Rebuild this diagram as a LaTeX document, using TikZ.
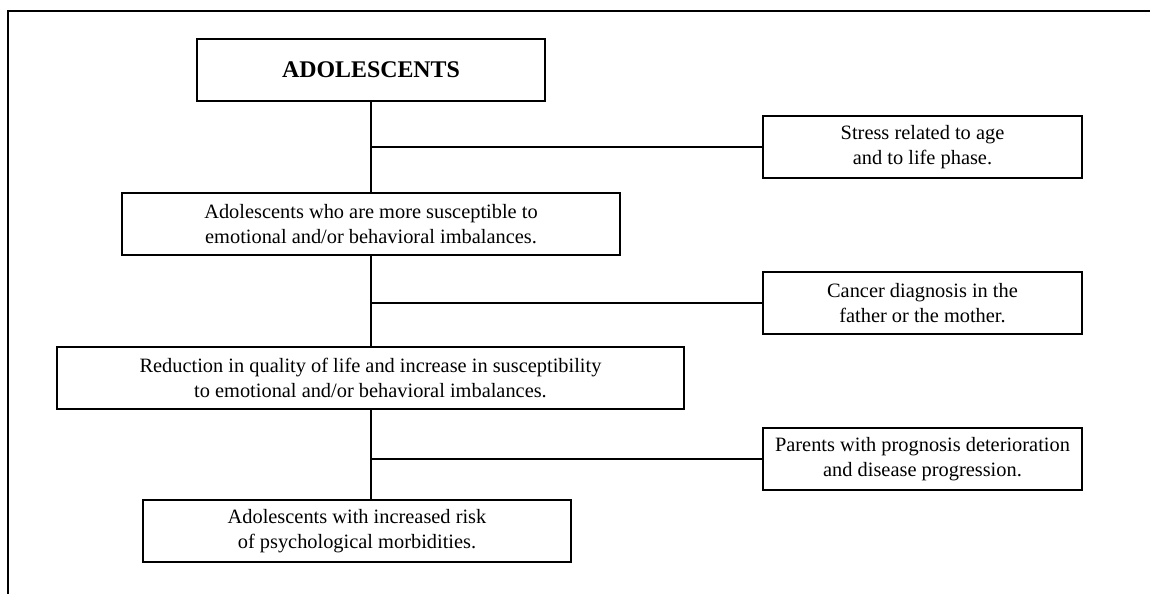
\documentclass[tikz,border=0pt]{standalone}
\usepackage{fontspec}
\setmainfont{Liberation Serif}
\begin{document}
\begin{tikzpicture}[x=0.02cm, y=-0.02cm,
    box/.style={draw, line width=0.7pt, align=center, inner sep=0pt,
      minimum height=1.24cm, font=\fontsize{11.6}{14.6}\selectfont},
    link/.style={line width=0.7pt}]
        \useasboundingbox (0,0) rectangle (1150,594);
        % Frame
        \draw[line width=1.4pt] (8,594) -- (8,11) -- (1150,11);

        % Nodes
        \node (adol) [box, minimum width=6.96cm, font=\fontsize{13.6}{16}\selectfont\bfseries] at (371, 70) {ADOLESCENTS};
        \node (stress) [box, minimum width=6.38cm] at (922.5, 147) {Stress related to age\\and to life phase.};
        \node (sus) [box, minimum width=9.96cm] at (371, 224) {Adolescents who are more susceptible to\\emotional and/or behavioral imbalances.};
        \node (cancer) [box, minimum width=6.38cm] at (922.5, 303) {Cancer diagnosis in the\\father or the mother.};
        \node (qol) [box, minimum width=12.54cm] at (370.5, 378) {Reduction in quality of life and increase in susceptibility\\to emotional and/or behavioral imbalances.};
        \node (parents) [box, minimum width=6.38cm] at (922.5, 459) {Parents with prognosis deterioration\\and disease progression.};
        \node (risk) [box, minimum width=8.56cm] at (357, 531) {Adolescents with increased risk\\of psychological morbidities.};

        % Edges
        \draw[link] (adol.south) -- (sus.north -| adol.south);
        \draw[link] (sus.south -| adol.south) -- (qol.north -| adol.south);
        \draw[link] (qol.south -| adol.south) -- (risk.north -| adol.south);
        \draw[link] (adol.south |- stress.west) -- (stress.west);
        \draw[link] (adol.south |- cancer.west) -- (cancer.west);
        \draw[link] (adol.south |- parents.west) -- (parents.west);
    \end{tikzpicture}
\end{document}
